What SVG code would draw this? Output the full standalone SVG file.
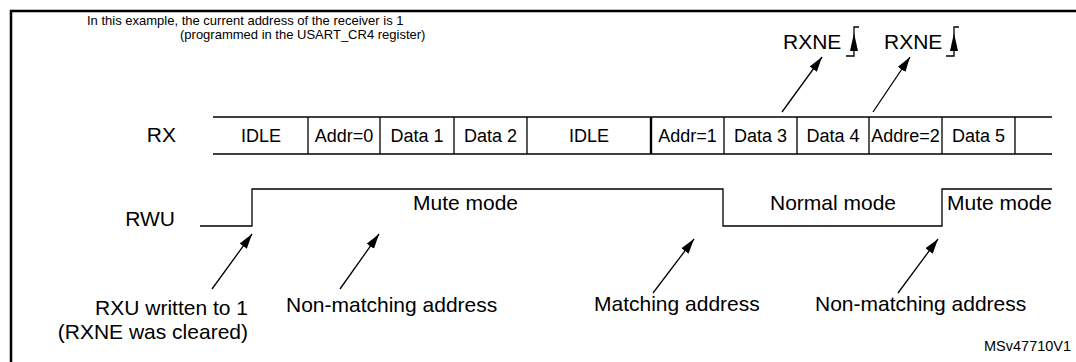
<svg xmlns="http://www.w3.org/2000/svg" width="1076" height="362" viewBox="0 0 1076 362">
<defs>
<marker id="ah" markerUnits="userSpaceOnUse" markerWidth="16" markerHeight="10" refX="15" refY="5" orient="auto"><path d="M0,0.5 L15,5 L0,9.5 Z" fill="#000"/></marker>
<style>
text{font-family:"Liberation Sans",Arial,sans-serif;fill:#000}
.big{font-size:21px}
.cell{font-size:18px;text-anchor:middle}
.note{font-size:13px}
.ln{stroke:#000;stroke-width:1.3;fill:none}
.ar{stroke:#000;stroke-width:1.3;fill:none;marker-end:url(#ah)}
</style>
</defs>
<rect width="1076" height="362" fill="#fff"/>
<path d="M11,362 V11 H1076" stroke="#000" stroke-width="2.5" fill="none"/>

<g id="note">
<text class="note" x="87" y="25">In this example, the current address of the receiver is 1</text>
<text class="note" x="180" y="39">(programmed in the USART_CR4 register)</text>
</g>

<g id="rxne1">
<text class="big" x="783" y="49">RXNE</text>
<path class="ln" d="M846,56 H854 V27 H859"/>
<path d="M854,33 L850,51 L858,51 Z" fill="#000"/>
</g>
<g id="rxne2">
<text class="big" x="884" y="49">RXNE</text>
<path class="ln" d="M946,56 H954 V27 H959"/>
<path d="M954,33 L950,51 L958,51 Z" fill="#000"/>
</g>

<g id="rx-label"><text class="big" x="176" y="142" text-anchor="end">RX</text></g>
<g id="rwu-label"><text class="big" x="175" y="226" text-anchor="end">RWU</text></g>

<g id="rx-bus">
<path class="ln" d="M213,117 H1052 M213,154 H1052"/>
<g id="cell-idle1"><text class="cell" x="261" y="142">IDLE</text><line class="ln" x1="308" y1="117" x2="308" y2="154"/></g>
<g id="cell-addr0"><text class="cell" x="344" y="142">Addr=0</text><line class="ln" x1="380" y1="117" x2="380" y2="154"/></g>
<g id="cell-data1"><text class="cell" x="417" y="142">Data 1</text><line class="ln" x1="454" y1="117" x2="454" y2="154"/></g>
<g id="cell-data2"><text class="cell" x="490.5" y="142">Data 2</text><line class="ln" x1="527" y1="117" x2="527" y2="154"/></g>
<g id="cell-idle2"><text class="cell" x="589" y="142">IDLE</text><line stroke="#000" stroke-width="2.4" x1="651" y1="117" x2="651" y2="154"/></g>
<g id="cell-addr1"><text class="cell" x="687.5" y="142">Addr=1</text><line class="ln" x1="724" y1="117" x2="724" y2="154"/></g>
<g id="cell-data3"><text class="cell" x="760.5" y="142">Data 3</text><line class="ln" x1="797" y1="117" x2="797" y2="154"/></g>
<g id="cell-data4"><text class="cell" x="833" y="142">Data 4</text><line class="ln" x1="869" y1="117" x2="869" y2="154"/></g>
<g id="cell-addr2"><text class="cell" x="905.5" y="142">Addre=2</text><line class="ln" x1="942" y1="117" x2="942" y2="154"/></g>
<g id="cell-data5"><text class="cell" x="978.5" y="142">Data 5</text><line class="ln" x1="1015" y1="117" x2="1015" y2="154"/></g>
</g>

<g id="rwu-wave">
<path class="ln" d="M200,226 H252 V189 H723 V226 H942 V189 H1052"/>
<text class="big" x="413" y="210">Mute mode</text>
<text class="big" x="770" y="210">Normal mode</text>
<text class="big" x="947" y="210">Mute mode</text>
</g>

<g id="lbl-rxu">
<text class="big" x="248" y="315" text-anchor="end">RXU written to 1</text>
<text class="big" x="248" y="339" text-anchor="end">(RXNE was cleared)</text>
</g>
<g id="lbl-nonmatch1"><text class="big" x="286" y="312">Non-matching address</text></g>
<g id="lbl-match"><text class="big" x="594" y="311">Matching address</text></g>
<g id="lbl-nonmatch2"><text class="big" x="815" y="311">Non-matching address</text></g>
<g id="ref-id"><text x="984" y="351" font-size="14.5">MSv47710V1</text></g>

<g id="connectors">
<line class="ar" x1="782" y1="112" x2="822" y2="57"/>
<line class="ar" x1="873" y1="112" x2="910" y2="57"/>
<line class="ar" x1="212" y1="289" x2="252" y2="234"/>
<line class="ar" x1="340" y1="289" x2="379" y2="234"/>
<line class="ar" x1="653" y1="293" x2="694" y2="239"/>
<line class="ar" x1="898" y1="293" x2="938" y2="239"/>
</g>
</svg>
